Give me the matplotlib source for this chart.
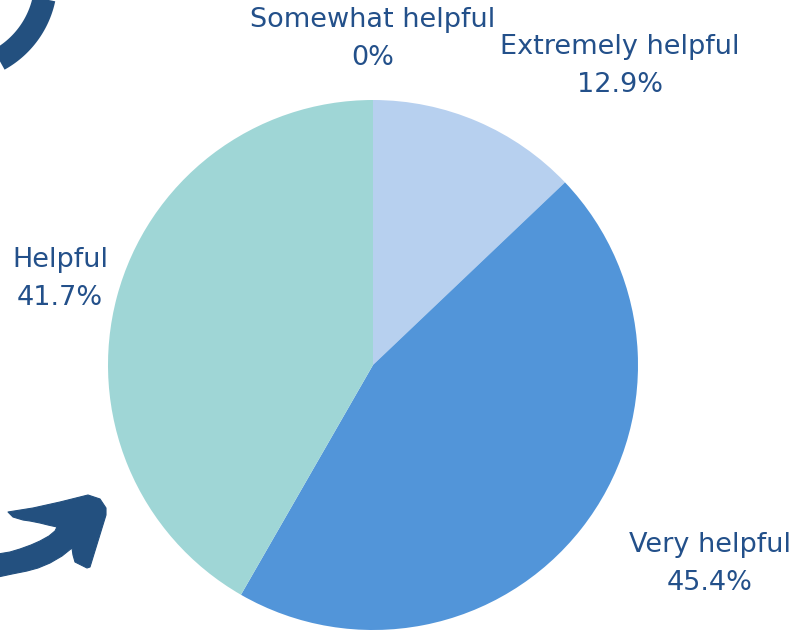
import numpy as np
import matplotlib.pyplot as plt
from matplotlib.patches import Polygon

# Datos de la encuesta
categories = ['Extremely helpful', 'Very helpful', 'Helpful', 'Somewhat helpful']
values = [12.9, 45.4, 41.7, 0.0]
colors = ['#b7d0ef', '#5295d9', '#9fd6d6', '#d9e8f5']
text_color = '#23508a'
deco_color = '#23507f'

W, H = 807, 630
fig = plt.figure(figsize=(W / 100, H / 100), dpi=100)

# Capa decorativa en coordenadas de pixel
deco = fig.add_axes([0, 0, 1, 1])
deco.set_xlim(0, W)
deco.set_ylim(H, 0)
deco.axis('off')

# Arco superior izquierdo
t = np.linspace(np.deg2rad(-5), np.deg2rad(100), 80)
cx, cy, r = -45, -20, 91
deco.plot(cx + r * np.cos(t), cy + r * np.sin(t), color=deco_color, lw=16.5,
          solid_capstyle='butt')

# Flecha inferior izquierda (contorno)
arrow = [(8, 512), (33, 508), (60, 502), (88, 495), (100, 499), (106, 508),
         (106, 515), (90, 567), (87, 568), (75, 562), (73, 555), (72, 548),
         (62, 556), (50, 563), (38, 568), (27, 571), (12, 574), (-2, 577),
         (-2, 554), (10, 552), (20, 549), (31, 545), (40, 541), (49, 536),
         (55, 531), (57, 527), (48, 525), (40, 523), (30, 521), (23, 520),
         (13, 517)]
deco.add_patch(Polygon(arrow, closed=True, fc=deco_color, ec=deco_color,
                       lw=0.8, joinstyle='round'))

# Pastel
R = 265
ax = fig.add_axes([(373 - R) / W, (H - 365 - R) / H, 2 * R / W, 2 * R / H])
ax.pie(values, colors=colors, startangle=90, counterclock=False,
       wedgeprops=dict(linewidth=0))
ax.set_xlim(-1, 1)
ax.set_ylim(-1, 1)
ax.set_aspect('equal')
ax.axis('off')

# Etiquetas (posiciones en pixeles)
label_pos = {
    'Extremely helpful': (620, 47),
    'Very helpful': (710, 545),
    'Helpful': (60, 260),
    'Somewhat helpful': (373, 20),
}
for cat, val in zip(categories, values):
    x, y = label_pos[cat]
    pct = f'{val:g}%'
    deco.text(x, y, cat, ha='center', va='center', fontsize=19.5,
              color=text_color, family='DejaVu Sans')
    deco.text(x, y + 38, pct, ha='center', va='center', fontsize=19.5,
              color=text_color, family='DejaVu Sans')

fig.savefig('out.png', dpi=100)
